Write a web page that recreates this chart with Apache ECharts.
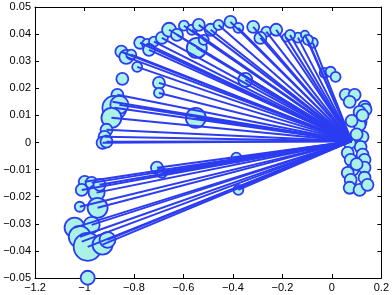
<!DOCTYPE html>
<html><head><meta charset="utf-8">
<script src="https://cdn.jsdelivr.net/npm/echarts@6/dist/echarts.min.js"></script>
<style>html,body{margin:0;padding:0;background:#fff}#c{width:392px;height:295px}</style>
</head><body><div id="c"></div>
<script>
// outer points (with connecting lines to hub): x, y, marker radius
const linkedX = [-0.851,-0.831,-0.811,-0.787,-0.775,-0.747,-0.719,-0.687,-0.658,-0.598,-0.566,-0.546,-0.538,-0.490,-0.458,-0.410,-0.378,-0.318,-0.265,-0.225,-0.185,-0.137,-0.109,-0.077,-0.350,-0.699,-0.699,
  -0.626,-0.518,-0.289,-0.169,-0.097,-0.739,
  -0.867,-0.887,-0.879,-0.859,-0.891,-0.911,-0.919,-0.927,-0.911,-0.550,-0.707,-0.687,-0.386,-0.378,
  -0.999,-1.011,-0.971,-0.951,-0.939,-1.019,-0.947,-1.040,-0.971,-1.019,-1.011,-0.987,-0.927,-0.907];
const linkedY = [0.0335,0.0316,0.0324,0.0279,0.0368,0.0364,0.0372,0.0386,0.0416,0.0431,0.0416,0.0349,0.0434,0.0416,0.0434,0.0445,0.0423,0.0427,0.0409,0.0416,0.0387,0.0387,0.0398,0.0368,0.0231,0.0220,0.0183,
  0.0397,0.0379,0.0386,0.0397,0.0379,0.0342,
  0.0176,0.0150,0.0128,0.0139,0.0091,0.0047,0.0021,-0.0001,0.0003,0.0091,-0.0093,-0.0112,-0.0056,-0.0175,
  -0.0145,-0.0175,-0.0149,-0.0185,-0.0156,-0.0237,-0.0241,-0.0314,-0.0304,-0.0348,-0.0366,-0.0385,-0.0377,-0.0359];
const linkedR = [6,7,5,5,6,5,5,6,7,5,5,10,6,6,5,6,5,6,5,6,4,5,4,5,7,6,5,
  6,5,6,5,5,6,
  6,5,12,9,10,6,6,6,6,10,6,5,5,5,
  6,6,6,8,6,5,10,10,8,11,6,14,10,8];
// points without lines
const freeX = [-0.847,-0.987,
  -0.029,-0.005,0.015,0.056,0.092,0.072,0.132,0.136,0.112,0.116,0.112,0.124,0.116,0.072,0.064,0.124,0.132,0.076,0.084,0.132,0.064,0.132,0.076,0.072,0.112,0.144,0.124,0.080,0.100,0.100];
const freeY = [0.0235,-0.0499,
  0.0257,0.0261,0.0242,0.0176,0.0176,0.0150,0.0132,0.0121,0.0113,0.0076,0.0065,0.0021,-0.0016,-0.0001,-0.0038,-0.0045,-0.0064,-0.0064,-0.0101,-0.0093,-0.0112,-0.0130,-0.0138,-0.0167,-0.0175,-0.0156,0.0100,0.0080,-0.0080,0.0030];
const freeR = [6,7,
  5,5,5,6,6,6,6,6,6,6,6,6,6,6,6,6,6,6,6,6,6,6,6,6,6,6,6,6,6,6];
// hub where lines converge, and red marker
const hub = [0.08, 0.0005];
const redPoint = [0.1, -0.001];
const xTickLabels = ['−1.2','−1','−0.8','−0.6','−0.4','−0.2','0','0.2'];
const yTickLabels = ['−0.05','−0.04','−0.03','−0.02','−0.01','0','0.01','0.02','0.03','0.04','0.05'];

const fill = '#aaf2e6', edge = '#2b3cf2';
const outer = [], right = [];
for (let i = 0; i < linkedX.length; i++) outer.push([linkedX[i], linkedY[i], linkedR[i]]);
for (let i = 0; i < freeX.length; i++) right.push([freeX[i], freeY[i], freeR[i]]);
const links = linkedX.map((x, i) => ({coords: [[x, linkedY[i]], hub]}));

const font = {fontFamily: 'Liberation Sans, Arial, sans-serif', fontSize: 11, color: '#000'};
const xFmt = v => xTickLabels[Math.round((v + 1.2) / 0.2)] ?? '';
const yFmt = v => yTickLabels[Math.round((v + 0.05) / 0.01)] ?? '';
const axLine = {show: true, onZero: false, lineStyle: {color: '#000', width: 1}};
const tick = {show: true, inside: true, length: 4, lineStyle: {color: '#000'}};
const circ = {color: fill, borderColor: edge, borderWidth: 1.8, opacity: 1};

const chart = echarts.init(document.getElementById('c'), null, {renderer: 'canvas'});
chart.setOption({
  animation: false,
  grid: {left: 35, right: 8, top: 7, bottom: 17, containLabel: false},
  xAxis: [
    {type: 'value', min: -1.2, max: 0.2, interval: 0.2, position: 'bottom', axisLine: axLine, axisTick: tick, splitLine: {show: false},
     axisLabel: Object.assign({margin: 4, formatter: xFmt, showMinLabel: true, showMaxLabel: true}, font)},
    {type: 'value', min: -1.2, max: 0.2, interval: 0.2, position: 'top', axisLine: axLine, axisTick: tick, splitLine: {show: false}, axisLabel: {show: false}}
  ],
  yAxis: [
    {type: 'value', min: -0.05, max: 0.05, interval: 0.01, position: 'left', axisLine: axLine, axisTick: tick, splitLine: {show: false},
     axisLabel: Object.assign({margin: 4, formatter: yFmt, showMinLabel: true, showMaxLabel: true}, font)},
    {type: 'value', min: -0.05, max: 0.05, interval: 0.01, position: 'right', axisLine: axLine, axisTick: tick, splitLine: {show: false}, axisLabel: {show: false}}
  ],
  series: [
    {type: 'scatter', data: outer, symbol: 'circle', symbolSize: d => d[2] * 2, itemStyle: circ, z: 2, silent: true},
    {type: 'scatter', data: [redPoint], symbol: 'rect', symbolSize: [3, 12], itemStyle: {color: '#ff1010'}, z: 3, silent: true},
    {type: 'scatter', data: right, symbol: 'circle', symbolSize: d => d[2] * 2, itemStyle: circ, z: 4, silent: true},
    {type: 'lines', coordinateSystem: 'cartesian2d', data: links, symbol: 'none',
     lineStyle: {color: edge, width: 2, opacity: 1, curveness: 0}, z: 5, silent: true}
  ]
});
</script></body></html>
